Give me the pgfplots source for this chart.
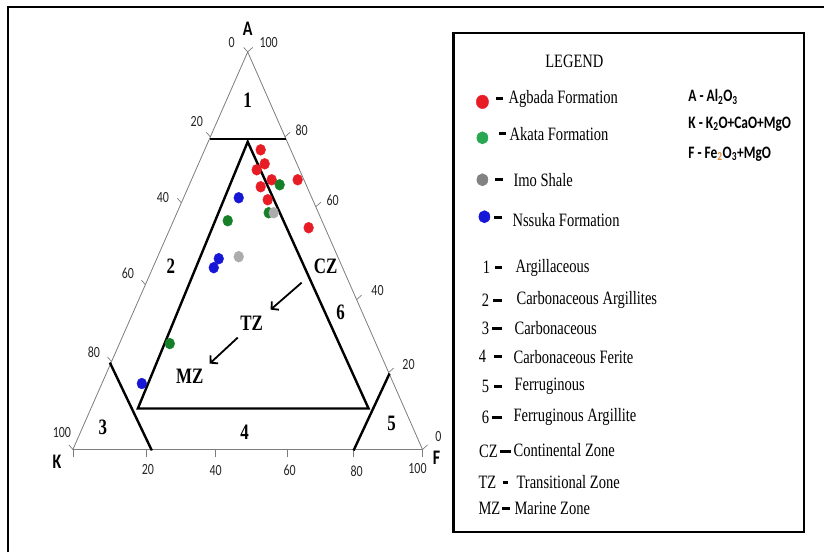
\documentclass[border=0pt]{standalone}
\usepackage{pgfplots}
\pgfplotsset{compat=1.18}
\usepackage{fontspec}
\setmainfont{Liberation Serif}
\newfontfamily\calfont{Carlito}
\usetikzlibrary{arrows.meta}

% all lettering of the diagram is set slightly tall
\newcommand\st[1]{\scalebox{1}[1.3]{#1}}

\definecolor{ptred}{RGB}{232,28,36}
\definecolor{ptgreen}{RGB}{22,128,40}
\definecolor{ptgray}{RGB}{172,172,172}
\definecolor{ptblue}{RGB}{22,22,215}
\definecolor{lggreen}{RGB}{40,168,80}
\definecolor{lggray}{RGB}{130,130,130}
\definecolor{sidegray}{RGB}{125,125,125}
\definecolor{subor}{RGB}{225,140,60}

\begin{document}
\begin{tikzpicture}
\begin{axis}[
  scale only axis, width=825bp, height=553bp,
  xmin=0, xmax=825, ymin=0, ymax=553, y dir=reverse,
  hide axis, clip=false,
  every node/.style={inner sep=0pt},
]
% page background and frame
\fill[white] (0,0) rectangle (825,553);
\draw[line width=2bp] (8,553) -- (8,7) -- (825,7);

% ---------- ternary frame A (top), K (left), F (right) ----------
\draw[sidegray, line width=0.8bp] (248,52) -- (73,450) -- (423,450) -- cycle;
\begin{scope}[sidegray, line width=0.7bp]
% ticks on the left side (K %)
\draw (248,52) -- (244,47.5);
\draw (210.6,137) -- (206.6,132.5);
\draw (181.6,203) -- (177.6,198.5);
\draw (145.6,285) -- (141.6,280.5);
\draw (111.7,362) -- (107.7,357.5);
\draw (73,450) -- (69,445.5);
% ticks on the right side (A %)
\draw (248,52) -- (253,47.5);
\draw (285.4,137) -- (290.4,132.5);
\draw (316.2,207) -- (321.2,202.5);
\draw (357,300) -- (362,295.5);
\draw (389.1,373) -- (394.1,368.5);
\draw (423,450) -- (428,445.5);
% ticks on the base (F %)
\draw (73,450) -- (73,458);
\draw (147,450) -- (147,458);
\draw (216,450) -- (216,458);
\draw (288,450) -- (288,458);
\draw (354,450) -- (354,458);
\draw (423,450) -- (423,458);
\end{scope}

% tick labels
\begin{scope}[every node/.style={inner sep=0pt, font=\calfont\fontsize{12}{13}\selectfont, text=black!85}]
\node at (232,43) {\st{0}};
\node at (197,122) {\st{20}};
\node at (163,198) {\st{40}};
\node at (128,274) {\st{60}};
\node at (94,353) {\st{80}};
\node at (62,433) {\st{100}};
\node at (269,43) {\st{100}};
\node at (302,130) {\st{80}};
\node at (333,201) {\st{60}};
\node at (378,291) {\st{40}};
\node at (409,365) {\st{20}};
\node at (439,437) {\st{0}};
\node at (148,470) {\st{20}};
\node at (216,471) {\st{40}};
\node at (290,471) {\st{60}};
\node at (357,472) {\st{80}};
\node at (418,469) {\st{100}};
\end{scope}

% vertex names
\begin{scope}[every node/.style={inner sep=0pt, font=\calfont\bfseries\fontsize{16}{17}\selectfont}]
\node at (248,29) {\st{A}};
\node at (57,462) {\st{K}};
\node at (437,458) {\st{F}};
\end{scope}

% ---------- field boundaries ----------
\draw[line width=2.4bp] (210,139) -- (286,139);
\draw[line width=2.4bp, line join=miter] (248,142) -- (138,409) -- (369,409) -- cycle;
\draw[line width=2.4bp] (110,363) -- (152,451);
\draw[line width=2.4bp] (354,451) -- (390,374);

% field numbers and depositional zones
\begin{scope}[every node/.style={inner sep=0pt, font=\bfseries\fontsize{17}{18}\selectfont}]
\node at (248,100) {\st{1}};
\node at (171,267) {\st{2}};
\node at (103,428) {\st{3}};
\node at (245,433) {\st{4}};
\node at (392,424) {\st{5}};
\node at (341,313) {\st{6}};
\node at (326,267) {\st{CZ}};
\node at (252,324) {\st{TZ}};
\node at (190,377) {\st{MZ}};
\end{scope}
\draw[line width=1.8bp, -{Straight Barb[length=5bp,width=11bp]}] (302,283) -- (271,310);
\draw[line width=1.8bp, -{Straight Barb[length=5bp,width=11bp]}] (238,338) -- (210,364);

% ---------- samples ----------
% Agbada Formation
\addplot[only marks, mark=*, mark size=4.9, color=ptred, mark options={yscale=1.12}]
  coordinates {(261,150) (265,164) (257,170) (272,180) (298,180) (261,187) (268,200) (309,228)};
% Akata Formation
\addplot[only marks, mark=*, mark size=4.9, color=ptgreen, mark options={yscale=1.12}]
  coordinates {(280,185) (269,213) (228,221) (170,344)};
% Imo Shale
\addplot[only marks, mark=*, mark size=4.9, color=ptgray, mark options={yscale=1.12}]
  coordinates {(274,213) (239,257)};
% Nssuka Formation
\addplot[only marks, mark=*, mark size=4.9, color=ptblue, mark options={yscale=1.12}]
  coordinates {(239,198) (219,259) (214,268) (142,384)};

% ---------- legend ----------
\draw[line width=2.2bp] (454,33) rectangle (805,533);
\node[font=\fontsize{14.6}{16}\selectfont] at (575,61) {\st{LEGEND}};

\addplot[only marks, mark=*, mark size=6.2, color=ptred, mark options={yscale=1.1}] coordinates {(483,102)};
\addplot[only marks, mark=*, mark size=5.6, color=lggreen, mark options={yscale=1.1}] coordinates {(483,138)};
\addplot[only marks, mark=*, mark size=5.6, color=lggray, mark options={yscale=1.1}] coordinates {(483,180)};
\addplot[only marks, mark=*, mark size=5.6, color=ptblue, mark options={yscale=1.1}] coordinates {(485,217)};

% legend dashes
\begin{scope}[line width=2.8bp]
\draw (497,99) -- (504,99);
\draw (500,134) -- (507,134);
\draw (496,180) -- (504,180);
\draw (495,218) -- (503,218);
\draw (496,268) -- (503,268);
\draw (494,300.7) -- (503,300.7);
\draw (493,329) -- (503,329);
\draw (495,357) -- (503,357);
\draw (495,387) -- (503,387);
\draw (493,418) -- (503,418);
\draw (501,452) -- (512,452);
\draw (504,483) -- (509,483);
\draw (503,509) -- (511,509);
\end{scope}

\begin{scope}[every node/.style={inner sep=0pt, font=\fontsize{14.6}{16}\selectfont}]
\node[anchor=west] at (509,99) {\st{Agbada Formation}};
\node[anchor=west] at (510,134) {\st{Akata Formation}};
\node[anchor=west] at (514,180) {\st{Imo Shale}};
\node[anchor=west] at (513,220) {\st{Nssuka Formation}};
\node at (487,268) {\st{1}};
\node at (486,301) {\st{2}};
\node at (486,329) {\st{3}};
\node at (483,357) {\st{4}};
\node at (486,387) {\st{5}};
\node at (486,418) {\st{6}};
\node at (489,452) {\st{CZ}};
\node at (488,483) {\st{TZ}};
\node at (490,509) {\st{MZ}};
\node[anchor=west] at (516,268) {\st{Argillaceous}};
\node[anchor=west] at (517,300) {\st{Carbonaceous Argillites}};
\node[anchor=west] at (515,328) {\st{Carbonaceous}};
\node[anchor=west] at (514,357) {\st{Carbonaceous Ferite}};
\node[anchor=west] at (515,387) {\st{Ferruginous}};
\node[anchor=west] at (514,417) {\st{Ferruginous Argillite}};
\node[anchor=west] at (514,451) {\st{Continental Zone}};
\node[anchor=west] at (517,483) {\st{Transitional Zone}};
\node[anchor=west] at (515,509) {\st{Marine Zone}};
\end{scope}

% oxide groups
\begin{scope}[every node/.style={inner sep=0pt, anchor=west, font=\calfont\bfseries\fontsize{13.5}{15}\selectfont}]
\node at (689,97) {\st{A - Al\textsubscript{2}O\textsubscript{3}}};
\node at (689,124) {\st{K - K\textsubscript{2}O+CaO+MgO}};
\node at (689,154) {\st{F - Fe\textsubscript{\textcolor{subor}{2}}O\textsubscript{3}+MgO}};
\end{scope}
\end{axis}
\end{tikzpicture}
\end{document}
